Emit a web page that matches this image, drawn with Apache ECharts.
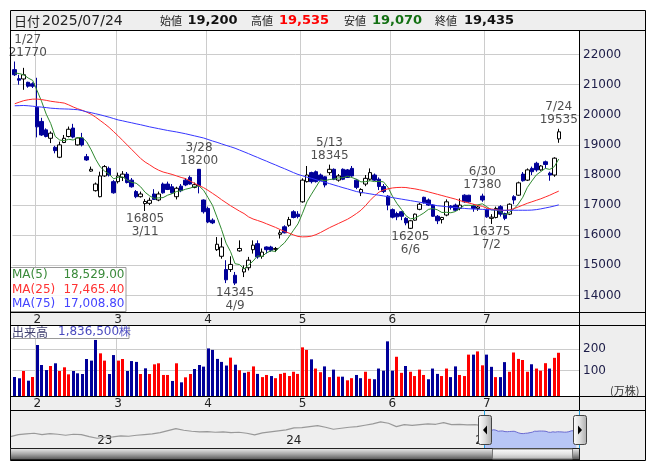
<!DOCTYPE html>
<html><head><meta charset="utf-8">
<script src="https://cdn.jsdelivr.net/npm/echarts@6/dist/echarts.min.js"></script>
<style>html,body{margin:0;padding:0;background:#fff}#c{width:653px;height:470px}</style>
</head><body><div id="c"></div>
<script>
const year = 2025;
const dates = ['1/27','1/28','1/29','1/30','1/31',
'2/3','2/4','2/5','2/6','2/7','2/10','2/12','2/13','2/14','2/17','2/18','2/19','2/20','2/21','2/25','2/26','2/27','2/28',
'3/3','3/4','3/5','3/6','3/7','3/10','3/11','3/12','3/13','3/14','3/17','3/18','3/19','3/21','3/24','3/25','3/26','3/27','3/28','3/31',
'4/1','4/2','4/3','4/4','4/7','4/8','4/9','4/10','4/11','4/14','4/15','4/16','4/17','4/18','4/21','4/22','4/23','4/24','4/25','4/28','4/30',
'5/1','5/2','5/7','5/8','5/9','5/12','5/13','5/14','5/15','5/16','5/19','5/20','5/21','5/22','5/23','5/26','5/27','5/28','5/29','5/30',
'6/2','6/3','6/4','6/5','6/6','6/9','6/10','6/11','6/12','6/13','6/16','6/17','6/18','6/19','6/20','6/23','6/24','6/25','6/26','6/27','6/30',
'7/1','7/2','7/3','7/4','7/7','7/8','7/9','7/10','7/11','7/14','7/15','7/16','7/17','7/18','7/22','7/23','7/24'];
const opens = [21500,21200,21190,21080,21030,
20250,19780,19500,19220,18920,18590,19080,19280,19560,19000,19230,18610,18130,17480,17280,17970,18220,17780,
17780,17920,18030,17830,17450,17280,17050,17060,17370,17170,17700,17700,17610,17280,17630,17830,17920,17590,18190,17170,
16890,16500,15520,15300,14860,14860,14670,15480,14780,14920,15520,15720,15300,15610,15610,15530,16030,16280,16330,16780,16700,
17110,17780,18080,18110,18000,17940,18080,18190,17830,18190,18170,18220,17830,17410,17700,17860,18000,17860,17620,17300,
16850,16720,16780,16560,16230,16500,16860,17260,17170,17000,16630,16520,16670,16970,17000,16890,17330,17330,16970,16890,17300,
16860,16560,16590,16950,16720,16700,17280,17330,18030,17830,18220,18390,18170,18440,18060,18000,19200];
const highs = [21770,21330,21560,21100,21080,
21230,19900,19550,19450,18970,19110,19330,19610,19700,19250,19400,18700,18280,17750,18110,18330,18280,17830,
18080,18130,18100,17900,17500,17450,17200,17250,17530,17450,17750,17780,17700,17610,17700,17900,17980,17750,18200,17190,
16950,16560,15940,15920,15170,15300,14780,15830,15000,15280,15830,15830,15560,15630,15650,15610,16170,16330,16610,16830,16800,
17890,18300,18110,18150,18050,17960,18345,18220,18030,18220,18200,18300,17860,17560,18000,18220,18050,17920,17700,17330,
16890,16780,16800,16600,16500,16720,17080,17280,17220,17030,16670,16610,17190,17000,17050,17220,17360,17340,17030,16970,17380,
16890,16700,16950,17000,16750,17060,17330,17780,18100,18220,18280,18440,18330,18480,18110,18590,19535];
const lows = [21290,21000,20830,20900,20890,
19250,19300,19250,19060,18720,18560,19060,19250,19220,18980,18950,18470,18110,17450,17260,17940,17950,17380,
17720,17800,17720,17580,17230,17250,16805,17000,17170,17130,17380,17500,17380,17190,17430,17630,17680,17560,17390,16720,
16400,16370,15480,15220,14410,14780,14345,15450,14610,14830,15390,15220,15220,15390,15450,15440,15890,16060,16280,16560,16560,
17080,17750,17720,17750,17800,17590,18000,17830,17780,17830,17900,17940,17530,17300,17630,17810,17800,17500,17400,16830,
16560,16500,16500,16330,16205,16480,16830,17050,16970,16610,16370,16390,16630,16850,16800,16830,17080,17080,16780,16810,17110,
16580,16375,16560,16620,16500,16670,17030,17310,17780,17800,18000,18110,18140,18220,17810,17940,19070];
const closes = [21330,21150,21330,20950,20950,
19600,19330,19280,19390,18810,19000,19220,19520,19260,19230,19000,18500,18190,17700,17970,18280,18000,17410,
17970,18030,17750,17610,17280,17370,17120,17160,17190,17370,17410,17520,17410,17560,17480,17670,17700,17680,17640,16780,
16440,16410,15700,15610,14520,15030,14410,15560,14890,15170,15670,15280,15440,15520,15500,15560,16080,16080,16520,16590,16620,
17830,18000,17780,17780,17830,17670,18190,17860,17970,17860,17920,17970,17590,17520,17890,18080,17830,17620,17450,17000,
16600,16610,16630,16410,16480,16700,17030,17080,17000,16630,16480,16590,17110,16920,16830,17000,17110,17110,16890,16940,17170,
16610,16600,16890,16700,16560,17030,17170,17740,17810,18170,18110,18170,18300,18350,18000,18560,19435];
// volume in 万株
const volumes = [70.6,64.5,98.6,53.3,70.6,
220,126.6,103,122,134.5,98.6,115.8,83,98.6,87.7,84.6,154.7,147,243.5,181,147,84.6,173,
147,154.7,98.6,145,141,84.6,111,84.6,129.7,134.5,80,80,52,134.5,45.6,69,84.6,108,126.6,119,
204,197,155,141,124,161,128,102,90,95,120,85,70,80,75,65,85,90,75,95,85,
209,197,153,110,93,120,70,105,72,72,55,65,80,65,95,62,60,110,100,237,
100,165,90,122,95,75,105,80,60,110,85,75,110,70,120,80,75,175,175,190,125,
175,118,70,70,140,95,185,155,150,95,130,110,100,135,110,160,183.65];
const ma5Head = [21390,21370,21330,21220];
const ma25 = [20367,20420,20470,20500,20520,20522,20505,20480,20450,20430,20410,20390,20330,20260,20200,20150,20090,20020,19920,19810,19700,19580,19440,19300,19150,19000,18850,18700,18550,18430,18340,18240,18160,18100,18060,18020,17970,17920,17880,17800,17720,17650,17580,17490,17390,17290,17180,17080,16980,16890,16800,16720,16610,16540,16490,16440,16380,16320,16260,16190,16130,16070,16010,15960,15945,15950,15970,16020,16090,16170,16250,16320,16390,16460,16530,16620,16720,16830,16980,17150,17300,17430,17500,17540,17570,17585,17590,17585,17560,17540,17510,17480,17440,17400,17360,17320,17280,17240,17200,17150,17110,17070,17030,16990,16960,16900,16870,16850,16830,16820,16840,16880,16940,17000,17060,17110,17160,17210,17270,17330,17400,17465.4];
const ma75 = [20300,20305,20310,20300,20285,20270,20255,20240,20220,20210,20200,20195,20190,20180,20170,20140,20100,20070,20035,20000,19960,19920,19875,19830,19800,19765,19735,19700,19670,19635,19600,19570,19540,19510,19480,19455,19430,19400,19370,19335,19300,19265,19230,19180,19130,19085,19035,18985,18940,18890,18830,18770,18710,18645,18585,18520,18460,18395,18335,18270,18210,18145,18080,18020,17975,17930,17890,17845,17800,17760,17715,17670,17625,17580,17540,17495,17450,17425,17400,17375,17350,17330,17305,17280,17250,17225,17200,17175,17150,17125,17100,17070,17040,17010,16980,16965,16950,16935,16920,16905,16890,16880,16870,16865,16860,16850,16845,16835,16835,16830,16830,16830,16830,16830,16830,16835,16850,16875,16905,16935,16970,17008.8];
const priceTicks = [14000,15000,16000,17000,18000,19000,20000,21000,22000];
const volumeTicks = [100,200];
const padSlots = 4;
// long-range navigator closes, half-month steps from 2022-07 (2nd half)
const navHistory = [11290,13690,14490,15290,13690,14890,14090,12890,14090,13690,11290,9290,10490,10890,12090,11690,12890,13690,14490,16090,18490,20890,18890,17690,16890,17290,16490,16890,16090,16490,15290,13290,15690,16890,18090,19290,21690,22090,23290,24490,22490,20090,21290,22490,23290,24890,26490,28890,27290,23290,25690,24890,25690,26490,26090,28090,25690,26090,25290,25690,24090];
const navStart = {year: 2022, month: 7, half: 2};
const annotations = [
  {date:'1/27', kind:'high'}, {date:'3/11', kind:'low'}, {date:'3/28', kind:'high'},
  {date:'4/9', kind:'low'}, {date:'5/13', kind:'high'}, {date:'6/6', kind:'low'},
  {date:'6/30', kind:'high'}, {date:'7/2', kind:'low'}, {date:'7/24', kind:'high'}
];

const FONT = '"DejaVu Sans", Verdana, sans-serif';
const CJK = '"Noto Sans CJK JP", sans-serif';
const N = dates.length;
const cats = dates.concat(Array.from({length: padSlots}, (_, k) => 'pad' + k));
const monthOf = d => d.indexOf('/') > 0 ? d.split('/')[0] : '';
const monthStart = cats.map((d, i) => i > 0 && i < N && monthOf(d) !== monthOf(cats[i - 1]));
const fmt = v => v.toLocaleString('en-US');

const candleData = dates.map((d, i) => [opens[i], closes[i], lows[i], highs[i]]);
const ma5 = closes.map((c, i) => i < 4 ? ma5Head[i] : (closes.slice(i - 4, i + 1).reduce((a, b) => a + b, 0) / 5));
const volData = volumes.map((v, i) => [i, v, (i === 0 ? closes[0] >= opens[0] : closes[i] >= closes[i - 1]) ? 1 : 0]);

const navCats = navHistory.map((v, k) => {
  const h = (navStart.month - 1) * 2 + (navStart.half - 1) + k;
  const y = navStart.year + Math.floor(h / 24);
  const m = Math.floor((h % 24) / 2) + 1;
  const hf = h % 2 + 1;
  return y + '-' + m + '-' + hf;
});

const annData = annotations.map(a => {
  const i = dates.indexOf(a.date);
  const hi = a.kind === 'high';
  const v = hi ? highs[i] : lows[i];
  return {
    value: [i, v],
    label: {
      position: hi ? 'top' : 'bottom',
      distance: hi ? 2 : 1,
      offset: i === 0 ? [13, 0] : [0, 0],
      formatter: hi ? (a.date + '\n' + v) : (v + '\n' + a.date)
    }
  };
});

const last = N - 1;
const catAxisCommon = (gi) => ({
  type: 'category', gridIndex: gi, data: cats, boundaryGap: true,
  axisLine: {show: false}, axisTick: {show: false},
  axisLabel: {show: true, interval: (i) => monthStart[i], formatter: (v) => monthOf(v),
    color: '#222', fontSize: 12, fontFamily: FONT, margin: 1, lineHeight: 12},
  splitLine: {show: true, interval: (i) => monthStart[i], lineStyle: {color: '#cccccc', width: 1}}
});

const T = (text, x, y, font, fill, align) => ({type: 'text', z: 101, style: {text, x, y, font, fill,
  align: align || 'left', textAlign: align || 'left', verticalAlign: 'middle', textVerticalAlign: 'middle'}});
const L = (x1, y1, x2, y2, color) => ({type: 'line', z: 100, shape: {x1, y1, x2, y2}, style: {stroke: color || '#000', lineWidth: 1}});
const R = (x, y, w, h, fill, z, stroke) => ({type: 'rect', z: z, shape: {x, y, width: w, height: h}, style: {fill, stroke: stroke || null, lineWidth: 1}});
const grad = (stops) => ({type: 'linear', x: 0, y: 0, x2: 0, y2: 1, colorStops: stops.map((c, k) => ({offset: k / (stops.length - 1), color: c}))});
const gradH = (stops) => ({type: 'linear', x: 0, y: 0, x2: 1, y2: 0, colorStops: stops.map((c, k) => ({offset: k / (stops.length - 1), color: c}))});

const graphics = [
  R(10.5, 10.5, 635, 20, '#eeeeee', -1),
  R(579.5, 30.5, 66, 430, '#eeeeee', -1),
  R(10.5, 312.5, 569, 13, '#eeeeee', -1),
  R(10.5, 396.5, 569, 14, '#eeeeee', -1),
  R(10.5, 410.5, 569, 38, '#eeeeee', -1),
  // header texts
  T('日付', 14, 21, '13px ' + CJK, '#222'),
  T(year + '/' + dates[last].split('/').map(s => s.padStart(2, '0')).join('/'), 42, 21, '14px ' + FONT, '#222'),
  T('始値', 160, 21, '11px ' + CJK, '#222'),
  T(fmt(opens[last]), 187.5, 21, 'bold 13px ' + FONT, '#111'),
  T('高値', 251, 21, '11px ' + CJK, '#222'),
  T(fmt(highs[last]), 279, 21, 'bold 13px ' + FONT, '#ff0000'),
  T('安値', 344, 21, '11px ' + CJK, '#222'),
  T(fmt(lows[last]), 372, 21, 'bold 13px ' + FONT, '#137013'),
  T('終値', 435, 21, '11px ' + CJK, '#222'),
  T(fmt(closes[last]), 464, 21, 'bold 13px ' + FONT, '#111'),
  // MA legend box
  R(10.5, 267.5, 115.5, 44, 'rgba(255,255,255,0.85)', 100, '#999999'),
  T('MA(5)', 12, 275, '12px ' + FONT, '#3a8a3a'),
  T(ma5[last].toLocaleString('en-US', {minimumFractionDigits: 2, maximumFractionDigits: 2}), 124.5, 275, '12px ' + FONT, '#3a8a3a', 'right'),
  T('MA(25)', 12, 289.5, '12px ' + FONT, '#ff3333'),
  T(ma25[last].toLocaleString('en-US', {minimumFractionDigits: 2, maximumFractionDigits: 2}), 124.5, 289.5, '12px ' + FONT, '#ff3333', 'right'),
  T('MA(75)', 12, 303.5, '12px ' + FONT, '#4444ff'),
  T(ma75[last].toLocaleString('en-US', {minimumFractionDigits: 2, maximumFractionDigits: 2}), 124.5, 303.5, '12px ' + FONT, '#4444ff', 'right'),
  // volume label box
  R(10.5, 325.5, 118.5, 13, 'rgba(255,255,255,0.85)', 100, '#999999'),
  T('出来高', 12, 332, '12px ' + CJK, '#404070'),
  T(fmt(Math.round(volumes[last] * 10000)) + '株', 58, 332, '12px ' + FONT, '#4a4ac0'),
  T('(万株)', 610, 391, '11px ' + CJK, '#333'),
  // frame lines
  {type: 'rect', z: 100, shape: {x: 10.5, y: 10.5, width: 635, height: 450}, style: {fill: null, stroke: '#000', lineWidth: 1}},
  L(10.5, 30.5, 645.5, 30.5), L(10.5, 312.5, 645.5, 312.5), L(10.5, 325.5, 645.5, 325.5),
  L(10.5, 396.5, 645.5, 396.5), L(10.5, 410.5, 645.5, 410.5), L(579.5, 30.5, 579.5, 460.5),
  // navigator selection markers
  L(484.5, 410.5, 484.5, 448.5, '#22a0e0'), L(579.5, 410.5, 579.5, 448.5, '#22a0e0'),
  // scrollbar
  {type: 'rect', z: 100, shape: {x: 10.5, y: 448.5, width: 569, height: 11}, style: {fill: grad(['#f0f0f0', '#a8a8a8', '#505050']), stroke: '#222', lineWidth: 1}},
  {type: 'rect', z: 101, shape: {x: 492.5, y: 449, width: 80, height: 10}, style: {fill: grad(['#ffffff', '#e4e4e4', '#b0b0b0']), stroke: '#777', lineWidth: 1}},
  // handles
  {type: 'rect', z: 102, shape: {x: 478.5, y: 415.5, width: 13, height: 29, r: 2}, style: {fill: gradH(['#ffffff', '#dddddd', '#aaaaaa']), stroke: '#444', lineWidth: 1}},
  {type: 'polygon', z: 103, shape: {points: [[487, 425.5], [483, 430], [487, 434.5]]}, style: {fill: '#000'}},
  {type: 'rect', z: 102, shape: {x: 573.5, y: 415.5, width: 13, height: 29, r: 2}, style: {fill: gradH(['#ffffff', '#dddddd', '#aaaaaa']), stroke: '#444', lineWidth: 1}},
  {type: 'polygon', z: 103, shape: {points: [[578, 425.5], [582, 430], [578, 434.5]]}, style: {fill: '#000'}}
];

const option = {
  animation: false,
  backgroundColor: '#ffffff',
  textStyle: {fontFamily: FONT},
  grid: [
    {left: 12.5, top: 30.5, width: 566.5, height: 282, outerBoundsMode: 'none', containLabel: false},
    {left: 12.5, top: 325.5, width: 566.5, height: 71.2, outerBoundsMode: 'none', containLabel: false},
    {left: 10.5, top: 410.7, width: 472.5, height: 37.3, outerBoundsMode: 'none', containLabel: false},
    {left: 484.5, top: 410.7, width: 95, height: 37.3, outerBoundsMode: 'none', containLabel: false}
  ],
  xAxis: [
    catAxisCommon(0),
    catAxisCommon(1),
    {type: 'category', gridIndex: 2, data: navCats, boundaryGap: false,
      axisLine: {show: false}, axisTick: {show: false}, splitLine: {show: false},
      axisLabel: {show: true, inside: true, margin: 1, align: 'left', color: '#222', fontSize: 12, fontFamily: FONT,
        interval: (i, v) => /-1-1$/.test(v), formatter: (v) => v.slice(2, 4)}},
    {type: 'category', gridIndex: 3, data: cats, boundaryGap: false, show: false}
  ],
  yAxis: [
    {type: 'value', gridIndex: 0, position: 'right', min: 13433.3, max: 22800.5, scale: true,
      axisLine: {show: false}, axisTick: {show: false, customValues: priceTicks},
      axisLabel: {customValues: priceTicks, formatter: (v) => String(v), color: '#1c1c48', fontSize: 12, fontFamily: FONT, margin: 4, align: 'left'},
      splitLine: {show: true, lineStyle: {color: '#cccccc', width: 1}}},
    {type: 'value', gridIndex: 1, position: 'right', min: -21.5, max: 311,
      axisLine: {show: false}, axisTick: {show: false, customValues: volumeTicks},
      axisLabel: {customValues: volumeTicks, formatter: (v) => String(v), color: '#1c1c48', fontSize: 12, fontFamily: FONT, margin: 4, align: 'left'},
      splitLine: {show: true, lineStyle: {color: '#cccccc', width: 1}}},
    {type: 'value', gridIndex: 2, min: -2400, max: 42400, show: false, splitLine: {show: false}},
    {type: 'value', gridIndex: 3, min: -2400, max: 42400, show: false, splitLine: {show: false}}
  ],
  series: [
    {type: 'candlestick', xAxisIndex: 0, yAxisIndex: 0, data: candleData, barWidth: 4, z: 3,
      itemStyle: {color: '#ffffff', color0: '#000099', borderColor: '#000000', borderColor0: '#000099', borderWidth: 1}},
    {type: 'line', xAxisIndex: 0, yAxisIndex: 0, data: ma5, showSymbol: false, symbol: 'none', z: 4,
      lineStyle: {color: '#2f8a2f', width: 1}},
    {type: 'line', xAxisIndex: 0, yAxisIndex: 0, data: ma25, showSymbol: false, symbol: 'none', z: 4,
      lineStyle: {color: '#ff2a2a', width: 1}},
    {type: 'line', xAxisIndex: 0, yAxisIndex: 0, data: ma75, showSymbol: false, symbol: 'none', z: 4,
      lineStyle: {color: '#3636ff', width: 1}},
    {type: 'scatter', xAxisIndex: 0, yAxisIndex: 0, data: annData, symbolSize: 0, z: 5, silent: true,
      label: {show: true, color: '#222', fontSize: 12, fontFamily: FONT, lineHeight: 13, align: 'center'}},
    {type: 'custom', xAxisIndex: 1, yAxisIndex: 1, data: volData, encode: {x: 0, y: 1}, z: 3,
      renderItem: (params, api) => {
        const p = api.coord([api.value(0), api.value(1)]);
        const base = params.coordSys.y + params.coordSys.height;
        const x = Math.round(p[0] - 1.5);
        return {type: 'rect', shape: {x: x, y: p[1], width: 3, height: base - p[1]},
          style: {fill: api.value(2) ? '#ff0000' : '#000099'}};
      }},
    {type: 'line', xAxisIndex: 2, yAxisIndex: 2, data: navHistory, showSymbol: false, symbol: 'none',
      lineStyle: {color: '#999999', width: 1.2}},
    {type: 'line', xAxisIndex: 3, yAxisIndex: 3, data: closes, showSymbol: false, symbol: 'none',
      lineStyle: {color: '#6a6ad0', width: 1}, areaStyle: {color: '#b8c6f6', opacity: 1, origin: 'start'}}
  ],
  graphic: {elements: graphics}
};
const chart = echarts.init(document.getElementById('c'), null, {renderer: 'canvas'});
chart.setOption(option);
</script></body></html>
